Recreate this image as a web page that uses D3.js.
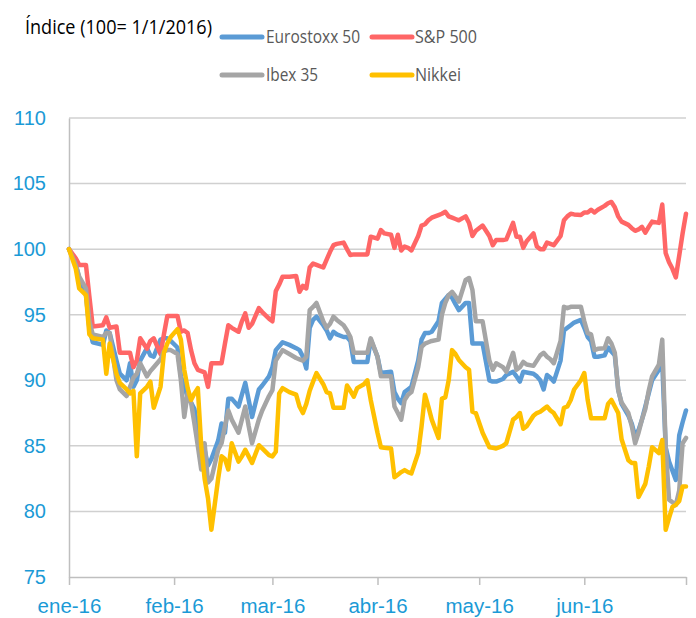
<!DOCTYPE html>
<html>
<head>
<meta charset="utf-8">
<script src="https://cdn.jsdelivr.net/npm/d3@7"></script>
<style>
  html, body { margin: 0; padding: 0; background: #fff; }
  svg { display: block; font-family: 'Open Sans', sans-serif; }
</style>
</head>
<body>
<div id="chart"></div>
<script>
// fechas de cada observación (índice 100 = 1/1/2016)
const dates = [
  '2016-01-01','2016-01-03','2016-01-04','2016-01-06','2016-01-07','2016-01-08','2016-01-11','2016-01-12','2016-01-13','2016-01-15',
  '2016-01-16','2016-01-18','2016-01-19','2016-01-20','2016-01-21','2016-01-22','2016-01-24','2016-01-25','2016-01-26','2016-01-28',
  '2016-01-29','2016-01-30','2016-01-31','2016-02-02','2016-02-03','2016-02-04','2016-02-05','2016-02-06','2016-02-07','2016-02-08',
  '2016-02-09','2016-02-10','2016-02-11','2016-02-12','2016-02-14','2016-02-15','2016-02-16','2016-02-17','2016-02-18','2016-02-20',
  '2016-02-21','2016-02-22','2016-02-23','2016-02-24','2016-02-26','2016-02-27','2016-02-29','2016-03-01','2016-03-02','2016-03-03',
  '2016-03-04','2016-03-06','2016-03-08','2016-03-09','2016-03-10','2016-03-11','2016-03-12','2016-03-13','2016-03-14','2016-03-16',
  '2016-03-17','2016-03-18','2016-03-19','2016-03-20','2016-03-22','2016-03-23','2016-03-24','2016-03-25','2016-03-26','2016-03-28',
  '2016-03-29','2016-03-30','2016-04-01','2016-04-02','2016-04-03','2016-04-05','2016-04-06','2016-04-07','2016-04-08','2016-04-09',
  '2016-04-10','2016-04-11','2016-04-13','2016-04-14','2016-04-15','2016-04-16','2016-04-17','2016-04-19','2016-04-20','2016-04-21',
  '2016-04-22','2016-04-23','2016-04-24','2016-04-25','2016-04-27','2016-04-28','2016-04-29','2016-04-30','2016-05-02','2016-05-04',
  '2016-05-05','2016-05-06','2016-05-08','2016-05-09','2016-05-11','2016-05-12','2016-05-13','2016-05-14','2016-05-15','2016-05-17',
  '2016-05-18','2016-05-19','2016-05-20','2016-05-21','2016-05-22','2016-05-23','2016-05-25','2016-05-26','2016-05-27','2016-05-28',
  '2016-05-29','2016-05-31','2016-06-01','2016-06-02','2016-06-03','2016-06-04','2016-06-05','2016-06-07','2016-06-08','2016-06-09',
  '2016-06-10','2016-06-11','2016-06-12','2016-06-14','2016-06-15','2016-06-16','2016-06-17','2016-06-18','2016-06-19','2016-06-20',
  '2016-06-21','2016-06-23','2016-06-24','2016-06-25','2016-06-26','2016-06-27','2016-06-28','2016-06-29','2016-06-30','2016-07-01'
];

const eurostoxx = [
  100, 98.8, 97.8, 96.5, 94.0, 92.9, 92.7, 93.8, 93.6, 91.5,
  90.5, 90.0, 91.3, 89.5, 90.0, 91.5, 92.45, 91.9, 91.8, 93.1,
  93.2, 93.2, 93.0, 92.5, 90.3, 89.5, 88.75, 88.3, 87.8, 86.3,
  85.2, 84.7, 83.5, 84.0, 85.4, 86.7, 86.0, 88.6, 88.6, 88.0,
  88.9, 89.8, 88.5, 87.2, 89.3, 89.6, 90.3, 91.0, 92.3, 92.6,
  92.9, 92.7, 92.45, 92.3, 91.8, 90.9, 94.0, 94.6, 94.85, 94.2,
  93.8, 93.2, 93.7, 93.5, 93.3, 93.3, 93.0, 91.4, 91.4, 91.4,
  91.4, 93.1, 91.8, 90.55, 90.6, 90.65, 89.1, 88.6, 88.25, 89.1,
  89.3, 89.5, 91.5, 93.1, 93.6, 93.6, 93.7, 94.5, 95.9, 96.2,
  96.5, 96.3, 95.8, 95.35, 95.9, 95.9, 92.8, 92.8, 92.8, 90.0,
  89.9, 89.9, 90.1, 90.4, 90.65, 90.3, 89.9, 90.65, 90.6, 90.5,
  90.3, 90.0, 89.3, 90.4, 90.2, 89.9, 91.5, 93.8, 94.0, 94.2,
  94.4, 94.6, 94.0, 93.3, 93.0, 91.8, 91.8, 91.9, 92.5, 92.2,
  91.9, 89.3, 88.2, 87.3, 86.7, 85.7, 86.2, 87.0, 88.0, 89.0,
  90.0, 90.8, 91.3, 84.9, 83.8, 83.1, 82.4, 85.8, 86.8, 87.7
];

const sp500 = [
  100, 99.3, 98.8, 98.8, 96.4, 94.1, 94.2, 94.8, 94.0, 94.1,
  92.1, 92.1, 92.1, 91.0, 91.5, 93.2, 92.4, 93.0, 93.2, 92.0,
  93.5, 94.9, 94.9, 94.9, 93.7, 93.8, 93.6, 92.3, 91.3, 90.8,
  90.7, 90.6, 89.5, 91.3, 91.3, 91.3, 92.8, 94.2, 94.0, 93.7,
  94.5, 95.1, 94.0, 94.3, 95.5, 95.2, 94.7, 94.5, 96.8, 97.3,
  97.9, 97.9, 97.95, 96.75, 97.2, 97.0, 98.6, 98.9, 98.8, 98.6,
  99.2, 99.8, 100.3, 100.4, 100.5, 100.0, 99.55, 99.6, 99.6, 99.6,
  99.6, 100.95, 100.8, 101.45, 101.2, 101.1, 100.1, 101.1, 99.9, 100.2,
  100.1, 99.9, 101.0, 101.8, 101.9, 102.2, 102.4, 102.6, 102.7, 102.85,
  102.5, 102.4, 102.3, 102.2, 102.5, 102.0, 101.0, 101.4, 101.8, 101.0,
  100.3, 100.7, 100.7, 100.75, 102.0, 100.95, 100.95, 100.1, 100.6, 101.2,
  100.2, 100.0, 100.0, 100.5, 100.4, 100.3, 101.0, 102.2, 102.5, 102.7,
  102.65, 102.6, 102.8, 102.8, 103.0, 102.8, 103.0, 103.3, 103.5, 103.6,
  103.2, 102.5, 102.1, 101.85, 101.6, 101.4, 101.5, 101.7, 101.25, 101.7,
  102.1, 102.0, 103.4, 99.7, 99.0, 98.5, 97.85, 99.5, 101.2, 102.7
];

const ibex = [
  100, 98.8, 97.9, 97.0, 94.5, 93.5, 93.3, 93.6, 93.6, 90.0,
  89.3, 88.8, 89.5, 90.2, 90.5, 91.3, 90.3, 90.7, 91.0, 91.6,
  92.2, 92.3, 92.3, 92.0, 90.0, 87.2, 89.0, 88.3, 86.7, 85.0,
  83.2, 85.2, 82.2, 82.5, 84.7, 85.2, 86.5, 87.7, 87.0, 86.0,
  87.0, 88.0, 86.5, 85.2, 87.0, 87.7, 88.8, 89.25, 91.5, 91.9,
  92.3, 92.0, 91.7, 91.6, 91.5, 91.8, 95.35, 95.6, 95.9, 94.5,
  94.0, 94.3, 94.85, 94.6, 94.2, 93.8, 93.3, 92.1, 92.1, 92.1,
  92.1, 93.2, 91.8, 90.3, 90.3, 90.3, 88.0, 87.5, 87.0, 88.5,
  88.9, 89.1, 91.0, 92.55, 92.8, 92.9, 93.0, 93.1, 95.0, 95.9,
  96.5, 96.75, 96.4, 96.0, 97.65, 97.8, 96.9, 94.5, 94.5, 91.5,
  90.8, 91.3, 91.0, 90.65, 92.1, 90.8, 91.0, 91.4, 91.2, 91.1,
  91.5, 91.9, 92.1, 91.8, 91.6, 91.3, 93.0, 95.6, 95.5, 95.6,
  95.6, 95.6, 94.5, 93.6, 93.5, 92.3, 92.4, 92.45, 93.2, 92.8,
  92.1, 89.25, 88.3, 87.5, 86.5, 85.2, 86.0, 87.0, 87.8, 89.2,
  90.3, 91.2, 93.1, 84.95, 80.9, 80.7, 80.5, 81.6, 85.2, 85.6
];

const nikkei = [
  100, 98.5, 97.0, 96.5, 93.5, 93.2, 93.1, 90.5, 92.8, 90.5,
  89.8, 89.3, 89.0, 89.2, 84.2, 89.0, 89.5, 89.9, 87.9, 89.5,
  92.1, 92.8, 93.3, 93.9, 93.1, 90.8, 89.4, 88.5, 89.0, 89.4,
  85.0, 82.5, 81.0, 78.6, 82.5, 84.2, 84.0, 83.2, 85.2, 83.8,
  84.2, 84.7, 84.2, 83.7, 85.05, 84.8, 84.3, 84.2, 84.55, 89.0,
  89.4, 89.1, 88.9, 88.0, 87.5, 88.2, 89.2, 89.9, 90.55, 89.7,
  89.1, 89.0, 87.9, 87.9, 87.9, 89.6, 89.2, 88.75, 89.4, 89.7,
  90.0, 88.5, 86.0, 84.9, 84.85, 84.8, 82.6, 82.8, 83.0, 83.15,
  83.0, 82.9, 84.45, 86.5, 88.9, 88.0, 87.0, 85.6, 88.6, 88.7,
  90.0, 92.3, 92.0, 91.55, 91.0, 90.8, 87.6, 87.5, 86.0, 84.9,
  84.85, 84.8, 85.0, 85.2, 87.0, 87.2, 87.5, 86.3, 86.5, 87.3,
  87.5, 87.6, 87.8, 88.0, 87.7, 87.5, 86.65, 87.9, 88.0, 88.5,
  89.3, 90.0, 90.55, 88.5, 87.1, 87.1, 87.1, 87.1, 88.2, 88.5,
  88.0, 87.5, 85.5, 83.9, 83.7, 83.7, 81.1, 81.6, 82.1, 83.4,
  84.9, 84.45, 85.45, 78.6, 79.5, 80.35, 80.5, 80.8, 81.9, 81.9
];

const seriesNames = ['Eurostoxx 50', 'S&P 500', 'Ibex 35', 'Nikkei'];
const seriesColors = ['#5B9BD5', '#FF6666', '#A5A5A5', '#FFC000'];
const yTicks = [75, 80, 85, 90, 95, 100, 105, 110];
const monthTicks = ['2016-01-01', '2016-02-01', '2016-03-01', '2016-04-01', '2016-05-01', '2016-06-01', '2016-07-01'];
const monthLabels = ['ene-16', 'feb-16', 'mar-16', 'abr-16', 'may-16', 'jun-16', ''];

const width = 696, height = 618;
const margin = { top: 118, right: 10, bottom: 41, left: 69 };
const axisBlue = '#1B9AD6';

const parse = d3.timeParse('%Y-%m-%d');
const xDates = dates.map(parse);

const svg = d3.select('#chart')
  .append('svg')
  .attr('width', width)
  .attr('height', height)
  .attr('viewBox', `0 0 ${width} ${height}`);

const x = d3.scaleTime()
  .domain([parse(monthTicks[0]), parse(monthTicks[monthTicks.length - 1])])
  .range([margin.left, width - margin.right]);

const y = d3.scaleLinear()
  .domain([75, 110])
  .range([height - margin.bottom, margin.top]);

// líneas de cuadrícula
svg.append('g')
  .selectAll('line')
  .data(yTicks.filter(d => d > 75))
  .enter()
  .append('line')
  .attr('x1', x.range()[0])
  .attr('x2', x.range()[1])
  .attr('y1', d => y(d))
  .attr('y2', d => y(d))
  .attr('stroke', '#D0D0D0')
  .attr('stroke-width', 1.5);

// eje y
const yAxis = svg.append('g')
  .attr('transform', `translate(${margin.left},0)`)
  .call(d3.axisLeft(y).tickValues(yTicks).tickSize(0).tickPadding(23).tickFormat(d3.format('d')));
yAxis.select('.domain').attr('stroke', '#BFBFBF').attr('stroke-width', 1.5);
yAxis.selectAll('text')
  .attr('fill', axisBlue)
  .style('font-size', '20px');

// eje x
const xAxis = svg.append('g')
  .attr('transform', `translate(0,${y(75)})`)
  .call(d3.axisBottom(x)
    .tickValues(monthTicks.map(parse))
    .tickSize(8)
    .tickSizeOuter(0)
    .tickPadding(13)
    .tickFormat((d, i) => monthLabels[i]));
xAxis.select('.domain').attr('stroke', '#BFBFBF').attr('stroke-width', 1.5);
xAxis.selectAll('.tick line').attr('stroke', '#BFBFBF').attr('stroke-width', 1.5);
xAxis.selectAll('text')
  .attr('fill', axisBlue)
  .style('font-size', '20.5px');

// series
const allSeries = [eurostoxx, sp500, ibex, nikkei];
const line = d3.line()
  .x((d, i) => x(xDates[i]))
  .y(d => y(d));

svg.append('g')
  .selectAll('path')
  .data(allSeries)
  .enter()
  .append('path')
  .attr('d', d => line(d))
  .attr('fill', 'none')
  .attr('stroke', (d, i) => seriesColors[i])
  .attr('stroke-width', 4.5)
  .attr('stroke-linejoin', 'round')
  .attr('stroke-linecap', 'round');

// título (estrechado para parecerse a Calibri)
svg.append('text')
  .attr('x', 25)
  .attr('y', 34)
  .attr('fill', '#000')
  .attr('textLength', 187)
  .attr('lengthAdjust', 'spacingAndGlyphs')
  .style('font-size', '20.5px')
  .text('Índice (100= 1/1/2016)');

// leyenda
const legendPos = [[222, 37], [372, 37], [222, 75], [372, 75]];
const legendTextWidth = [94, 62, 52, 46];
const legend = svg.append('g')
  .selectAll('g')
  .data(seriesNames)
  .enter()
  .append('g')
  .attr('transform', (d, i) => `translate(${legendPos[i][0]},${legendPos[i][1]})`);

legend.append('line')
  .attr('x1', 0)
  .attr('x2', 40)
  .attr('stroke', (d, i) => seriesColors[i])
  .attr('stroke-width', 5)
  .attr('stroke-linecap', 'round');

legend.append('text')
  .attr('x', (d, i) => i % 2 === 0 ? 44 : 43)
  .attr('dy', '0.36em')
  .attr('fill', '#595959')
  .attr('textLength', (d, i) => legendTextWidth[i])
  .attr('lengthAdjust', 'spacingAndGlyphs')
  .style('font-size', '18px')
  .text(d => d);
</script>
</body>
</html>
